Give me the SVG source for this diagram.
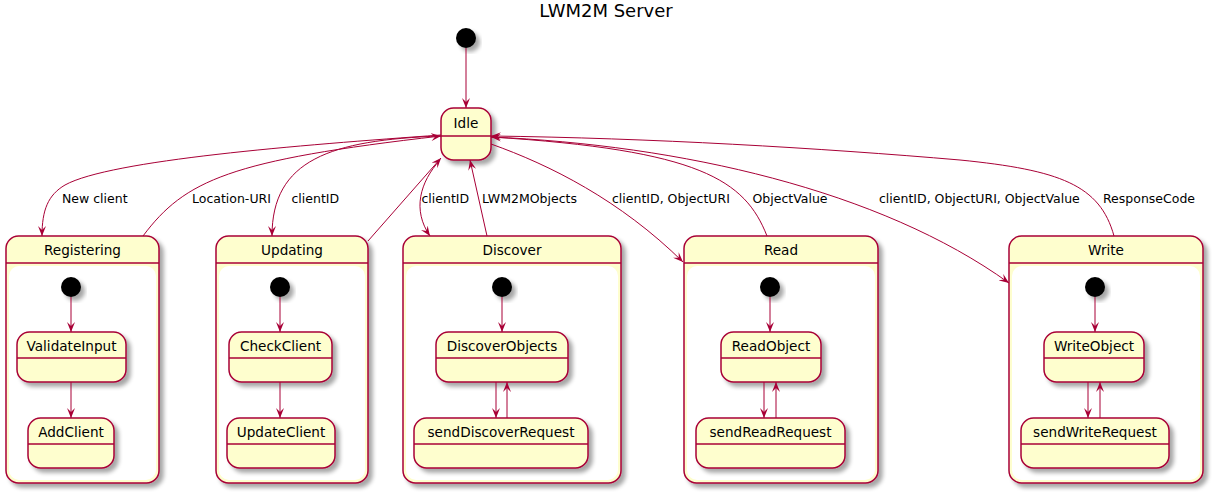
<svg xmlns="http://www.w3.org/2000/svg" width="1213" height="493" viewBox="0 0 1213 493">
<style>
  .st { fill: #FEFECE; stroke: #A80036; stroke-width: 1.5; }
  .inner { fill: #FFFFFF; stroke: none; }
  .div { stroke: #A80036; stroke-width: 1.5; }
  .init { fill: #000000; }
  .name { font-family: "DejaVu Sans", sans-serif; font-size: 13.6px; fill: #000000; text-anchor: middle; }
  .lbl { font-family: "DejaVu Sans", sans-serif; font-size: 12.5px; fill: #000000; }
  .title { font-family: "DejaVu Sans", sans-serif; font-size: 18px; fill: #000000; text-anchor: middle; }
  .edge { fill: none; stroke: #A80036; stroke-width: 1; marker-end: url(#arr); }
  .edge0 { fill: none; stroke: #A80036; stroke-width: 1; }
</style>
<defs>
  <filter id="sh" x="-20%" y="-20%" width="150%" height="150%">
    <feGaussianBlur in="SourceAlpha" stdDeviation="2"/>
    <feOffset dx="4" dy="4" result="o"/>
    <feComponentTransfer><feFuncA type="linear" slope="0.35"/></feComponentTransfer>
    <feMerge><feMergeNode/><feMergeNode in="SourceGraphic"/></feMerge>
  </filter>
  <marker id="arr" markerWidth="10" markerHeight="8" refX="10" refY="4" orient="auto" markerUnits="userSpaceOnUse">
    <path d="M0,0 L10,4 L0,8 L4,4 Z" fill="#A80036"/>
  </marker>
</defs>
<rect width="1213" height="493" fill="#FFFFFF"/>
<text class="title" x="606" y="17">LWM2M Server</text>

<g id="start"><circle class="init" cx="466" cy="38" r="10" filter="url(#sh)"/></g>

<g id="Idle">
  <rect class="st" x="441" y="108" width="50" height="52" rx="12.5" filter="url(#sh)"/>
  <line class="div" x1="441" y1="136" x2="491" y2="136"/>
  <text class="name" x="466" y="128">Idle</text>
</g>

<g id="Registering">
  <rect class="st" x="6" y="236" width="153" height="247" rx="12.5" filter="url(#sh)"/>
  <line class="div" x1="6" y1="263" x2="159" y2="263"/>
  <rect class="inner" x="9" y="266" width="147" height="214" rx="10"/>
  <text class="name" x="82.5" y="255">Registering</text>
  <g id="Registering_start"><circle class="init" cx="71" cy="287" r="10" filter="url(#sh)"/></g>
  <g id="ValidateInput">
    <rect class="st" x="17" y="332" width="109" height="50" rx="12.5" filter="url(#sh)"/>
    <line class="div" x1="17" y1="358" x2="126" y2="358"/>
    <text class="name" x="71.5" y="351">ValidateInput</text>
  </g>
  <g id="AddClient">
    <rect class="st" x="28" y="418" width="86" height="50" rx="12.5" filter="url(#sh)"/>
    <line class="div" x1="28" y1="444" x2="114" y2="444"/>
    <text class="name" x="71" y="437">AddClient</text>
  </g>
</g>

<g id="Updating">
  <rect class="st" x="216" y="236" width="152" height="247" rx="12.5" filter="url(#sh)"/>
  <line class="div" x1="216" y1="263" x2="368" y2="263"/>
  <rect class="inner" x="219" y="266" width="146" height="214" rx="10"/>
  <text class="name" x="292" y="255">Updating</text>
  <g id="Updating_start"><circle class="init" cx="280" cy="287" r="10" filter="url(#sh)"/></g>
  <g id="CheckClient">
    <rect class="st" x="229" y="332" width="103" height="50" rx="12.5" filter="url(#sh)"/>
    <line class="div" x1="229" y1="358" x2="332" y2="358"/>
    <text class="name" x="280.5" y="351">CheckClient</text>
  </g>
  <g id="UpdateClient">
    <rect class="st" x="227" y="418" width="108" height="50" rx="12.5" filter="url(#sh)"/>
    <line class="div" x1="227" y1="444" x2="335" y2="444"/>
    <text class="name" x="281" y="437">UpdateClient</text>
  </g>
</g>

<g id="Discover">
  <rect class="st" x="403" y="236" width="218" height="247" rx="12.5" filter="url(#sh)"/>
  <line class="div" x1="403" y1="263" x2="621" y2="263"/>
  <rect class="inner" x="406" y="266" width="212" height="214" rx="10"/>
  <text class="name" x="512" y="255">Discover</text>
  <g id="Discover_start"><circle class="init" cx="502" cy="287" r="10" filter="url(#sh)"/></g>
  <g id="DiscoverObjects">
    <rect class="st" x="436" y="332" width="132" height="50" rx="12.5" filter="url(#sh)"/>
    <line class="div" x1="436" y1="358" x2="568" y2="358"/>
    <text class="name" x="502" y="351">DiscoverObjects</text>
  </g>
  <g id="sendDiscoverRequest">
    <rect class="st" x="414" y="418" width="174" height="50" rx="12.5" filter="url(#sh)"/>
    <line class="div" x1="414" y1="444" x2="588" y2="444"/>
    <text class="name" x="501" y="437">sendDiscoverRequest</text>
  </g>
</g>

<g id="Read">
  <rect class="st" x="684" y="236" width="194" height="247" rx="12.5" filter="url(#sh)"/>
  <line class="div" x1="684" y1="263" x2="878" y2="263"/>
  <rect class="inner" x="687" y="266" width="188" height="214" rx="10"/>
  <text class="name" x="781" y="255">Read</text>
  <g id="Read_start"><circle class="init" cx="770" cy="287" r="10" filter="url(#sh)"/></g>
  <g id="ReadObject">
    <rect class="st" x="721" y="332" width="100" height="50" rx="12.5" filter="url(#sh)"/>
    <line class="div" x1="721" y1="358" x2="821" y2="358"/>
    <text class="name" x="771" y="351">ReadObject</text>
  </g>
  <g id="sendReadRequest">
    <rect class="st" x="696" y="418" width="149" height="50" rx="12.5" filter="url(#sh)"/>
    <line class="div" x1="696" y1="444" x2="845" y2="444"/>
    <text class="name" x="770.5" y="437">sendReadRequest</text>
  </g>
</g>

<g id="Write">
  <rect class="st" x="1009" y="236" width="194" height="247" rx="12.5" filter="url(#sh)"/>
  <line class="div" x1="1009" y1="263" x2="1203" y2="263"/>
  <rect class="inner" x="1012" y="266" width="188" height="214" rx="10"/>
  <text class="name" x="1106" y="255">Write</text>
  <g id="Write_start"><circle class="init" cx="1095" cy="287" r="10" filter="url(#sh)"/></g>
  <g id="WriteObject">
    <rect class="st" x="1044" y="332" width="100" height="50" rx="12.5" filter="url(#sh)"/>
    <line class="div" x1="1044" y1="358" x2="1144" y2="358"/>
    <text class="name" x="1094" y="351">WriteObject</text>
  </g>
  <g id="sendWriteRequest">
    <rect class="st" x="1021" y="418" width="148" height="50" rx="12.5" filter="url(#sh)"/>
    <line class="div" x1="1021" y1="444" x2="1169" y2="444"/>
    <text class="name" x="1095" y="437">sendWriteRequest</text>
  </g>
</g>

<g id="connectors">
  <path class="edge" d="M466,48 L466,108"/>
  <path class="edge" d="M441,135 C300,145 110,160 65,185 C48,195 42,210 42,236"/>
  <path class="edge" d="M143,236 C185,180 230,160 441,136"/>
  <path class="edge" d="M441,136 C330,140 272,160 272,236"/>
  <path class="edge" d="M368,241 L441,158"/>
  <path class="edge" d="M440,160 C420,182 412,210 430,236"/>
  <path class="edge" d="M487,236 L470,160"/>
  <path class="edge" d="M491,144 C550,165 620,200 683,262"/>
  <path class="edge" d="M767,236 C745,180 700,150 491,137"/>
  <path class="edge" d="M491,137 C680,145 880,190 1009,283"/>
  <path class="edge" d="M1114,236 C1100,185 1060,170 960,160 C820,148 650,138 491,136"/>

  <path class="edge" d="M71,297 L71,332"/>
  <path class="edge" d="M71,382 L71,418"/>
  <path class="edge" d="M280,297 L280,332"/>
  <path class="edge" d="M280,382 L280,418"/>
  <path class="edge" d="M502,297 L502,332"/>
  <path class="edge" d="M496,382 L496,418"/>
  <path class="edge" d="M507,418 L507,382"/>
  <path class="edge" d="M770,297 L770,332"/>
  <path class="edge" d="M764,382 L764,418"/>
  <path class="edge" d="M776,418 L776,382"/>
  <path class="edge" d="M1095,297 L1095,332"/>
  <path class="edge" d="M1088,382 L1088,418"/>
  <path class="edge" d="M1100,418 L1100,382"/>

  <text class="lbl" x="62" y="203">New client</text>
  <text class="lbl" x="192" y="203">Location-URI</text>
  <text class="lbl" x="291.5" y="203">clientID</text>
  <text class="lbl" x="421.5" y="203">clientID</text>
  <text class="lbl" x="482" y="203">LWM2MObjects</text>
  <text class="lbl" x="612" y="203">clientID, ObjectURI</text>
  <text class="lbl" x="752.5" y="203">ObjectValue</text>
  <text class="lbl" x="879" y="203">clientID, ObjectURI, ObjectValue</text>
  <text class="lbl" x="1103" y="203">ResponseCode</text>
</g>
</svg>
